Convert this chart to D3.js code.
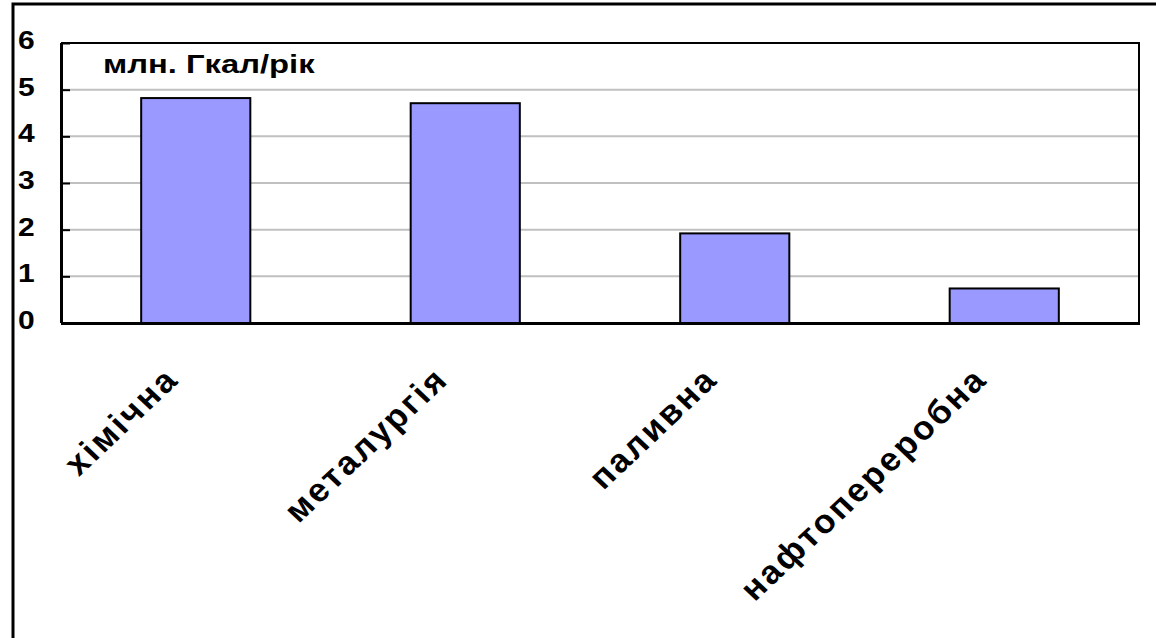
<!DOCTYPE html>
<html>
<head>
<meta charset="utf-8">
<script src="https://cdn.jsdelivr.net/npm/d3@7"></script>
<style>
  html, body { margin: 0; padding: 0; background: #fff; }
  svg { display: block; }
  text { font-family: "Liberation Sans", Arial, sans-serif; font-weight: bold; fill: #000; }
</style>
</head>
<body>
<svg id="chart" width="1156" height="638"></svg>
<script>
// Heat consumption by industry, million Gcal per year
const categories = ["хімічна", "металургія", "паливна", "нафтопереробна"];
const values = [4.82, 4.71, 1.92, 0.74];
const yTicks = [0, 1, 2, 3, 4, 5, 6];
const unitLabel = "млн. Гкал/рік";

const svg = d3.select("#chart");
const plot = { left: 61, top: 43, right: 1139, bottom: 323 };
const wide = 1.2;      // horizontal stretch of the wide bold lettering
const wideRot = 1.06;  // milder stretch for the slanted category names

// outer frame (right and bottom edges run off the canvas)
svg.append("rect")
  .attr("x", 13).attr("y", 4)
  .attr("width", 1160).attr("height", 660)
  .attr("fill", "#fff").attr("stroke", "#000").attr("stroke-width", 3);

const x = d3.scaleBand()
  .domain(categories)
  .range([plot.left, plot.right])
  .paddingInner(0.595)
  .paddingOuter(0.2975);

const y = d3.scaleLinear()
  .domain([0, 6])
  .range([plot.bottom, plot.top]);

// gridlines
svg.append("g")
  .selectAll("line")
  .data(yTicks.filter(t => t > 0 && t < 6))
  .join("line")
  .attr("x1", plot.left).attr("x2", plot.right)
  .attr("y1", d => y(d)).attr("y2", d => y(d))
  .attr("stroke", "#c0c0c0").attr("stroke-width", 2);

// plot area border (top and right)
svg.append("path")
  .attr("d", `M${plot.left},${plot.top}H${plot.right}V${plot.bottom}`)
  .attr("fill", "none").attr("stroke", "#000").attr("stroke-width", 2);

// bars
svg.append("g")
  .selectAll("rect")
  .data(values)
  .join("rect")
  .attr("x", (d, i) => x(categories[i]))
  .attr("width", x.bandwidth())
  .attr("y", d => y(d))
  .attr("height", d => y(0) - y(d))
  .attr("fill", "#9999ff")
  .attr("stroke", "#000").attr("stroke-width", 2);

// y axis: inward ticks
const yAxis = d3.axisRight(y).tickValues(yTicks).tickSize(9).tickFormat("");
const yg = svg.append("g").attr("transform", `translate(${plot.left},0)`).call(yAxis);
yg.select(".domain").attr("stroke", "#000").attr("stroke-width", 3)
  .attr("d", `M0.5,${plot.top}V${plot.bottom}`);
yg.selectAll(".tick line").attr("stroke", "#000").attr("stroke-width", 2);

// y tick labels at the frame's left edge
svg.append("g")
  .selectAll("text")
  .data(yTicks)
  .join("text")
  .attr("transform", d => `translate(18,${y(d) - 3}) scale(${wide},1)`)
  .attr("dy", "0.36em")
  .style("font-size", "25px")
  .text(d => d);

// x axis baseline
const xAxis = d3.axisBottom(x).tickSize(0).tickFormat("");
const xg = svg.append("g").attr("transform", `translate(0,${plot.bottom})`).call(xAxis);
xg.select(".domain").attr("stroke", "#000").attr("stroke-width", 3)
  .attr("d", `M${plot.left},0.5H${plot.right + 1}`);

// rotated category labels
svg.append("g")
  .selectAll("text")
  .data(categories)
  .join("text")
  .attr("transform", d => `translate(${x(d) + x.bandwidth() / 2 - 15},${plot.bottom + 58}) scale(${wideRot},1) rotate(-45)`)
  .attr("text-anchor", "end")
  .style("font-size", "33px")
  .style("letter-spacing", "2.5px")
  .text(d => d);

// unit label inside the plot
svg.append("text")
  .attr("transform", `translate(103,73) scale(1.26,1)`)
  .style("font-size", "26px")
  .text(unitLabel);
</script>
</body>
</html>
